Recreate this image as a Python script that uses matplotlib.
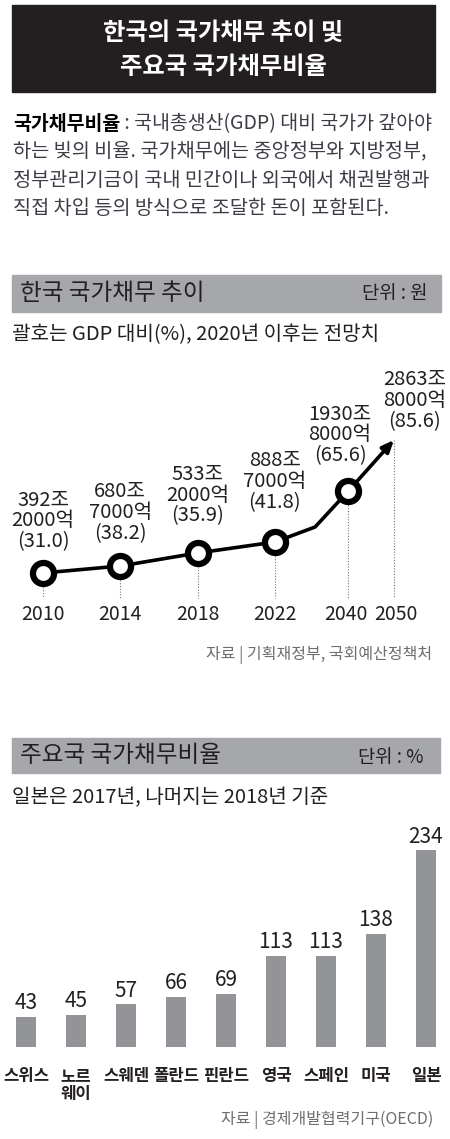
import matplotlib
matplotlib.use('Agg')
import matplotlib.pyplot as plt
from matplotlib.patches import Rectangle

# ---------- Data ----------

title_lines = ['한국의 국가채무 추이 및', '주요국 국가채무비율']
desc_bold = '국가채무비율'
desc_lines = [' : 국내총생산(GDP) 대비 국가가 갚아야',
              '하는 빚의 비율. 국가채무에는 중앙정부와 지방정부,',
              '정부관리기금이 국내 민간이나 외국에서 채권발행과',
              '직접 차입 등의 방식으로 조달한 돈이 포함된다.']

years = ['2010', '2014', '2018', '2022', '2040', '2050']
debt_labels = ['392조\n2000억\n(31.0)', '680조\n7000억\n(38.2)', '533조\n2000억\n(35.9)',
               '888조\n7000억\n(41.8)', '1930조\n8000억\n(65.6)', '2863조\n8000억\n(85.6)']
year_pos = [0, 1, 2, 3, 3.95, 4.54]       # category positions on the time axis
line_x = [0, 1, 2, 3, 3.52, 3.95, 4.54]     # path incl. the kink before 2040
line_level = [0, 7, 20, 31, 46, 82, 133]    # schematic heights

countries = ['스위스', '노르\n웨이', '스웨덴', '폴란드', '핀란드', '영국', '스페인', '미국', '일본']
ratios = [43, 45, 57, 66, 69, 113, 113, 138, 234]

# ---------- Setup ----------

W, H = 450, 1139
plt.rcParams['font.family'] = ['Noto Sans CJK KR', 'DejaVu Sans']
fig = plt.figure(figsize=(W/100, H/100), dpi=100)
fig.patch.set_facecolor('white')

DARK = '#231f20'
DESC = '#3c3c46'
GRAY_BOX = '#a6a7aa'
BAR = '#939497'
SRC = '#6d6e71'

def fx(x): return x/W
def fy(y): return 1 - y/H

def box(x0, y0, x1, y1, color):
    fig.patches.append(Rectangle((fx(x0), fy(y1)), fx(x1-x0), (y1-y0)/H,
                                 transform=fig.transFigure, color=color, zorder=0))

def ptext(x, y, s, **kw):
    return fig.text(fx(x), fy(y), s, **kw)

# ---------- Title ----------

box(12, 5, 435, 92, DARK)
ptext(223, 33, title_lines[0], color='white', fontsize=17.5, fontweight='bold', ha='center', va='center')
ptext(223, 67, title_lines[1], color='white', fontsize=17.5, fontweight='bold', ha='center', va='center')

# ---------- Description ----------

renderer = fig.canvas.get_renderer()
t = ptext(13, 124, desc_bold, color='black', fontsize=14, fontweight='bold', va='center')
bb = t.get_window_extent(renderer)
fig.text(bb.x1/fig.dpi/fig.get_figwidth(), fy(124), desc_lines[0], color=DESC, fontsize=14, va='center')
for i, line in enumerate(desc_lines[1:]):
    ptext(13, 152 + 28*i, line, color=DESC, fontsize=14.2, va='center')

# ---------- Section 1: line chart ----------

box(12, 275, 441, 312, GRAY_BOX)
ptext(20, 293, '한국 국가채무 추이', color=DARK, fontsize=17, va='center')
ptext(428, 294, '단위 : 원', color=DARK, fontsize=13.5, ha='right', va='center')
ptext(12, 335, '괄호는 GDP 대비(%), 2020년 이후는 전망치', color=DARK, fontsize=14.5, va='center')

top, bot = 360, 630
ax1 = fig.add_axes([0, fy(bot), 1, (bot-top)/H])
ax1.set_xlim(-43/77.3, (W-43)/77.3)
ax1.set_ylim(-(bot-573), 573-top)
ax1.axis('off')

# dotted guides
for xp in year_pos:
    lvl = line_level[line_x.index(xp)]
    ax1.plot([xp, xp], [lvl, -25], color='#777777', lw=0.8, ls=(0, (1, 1.5)), zorder=1)

ax1.plot(line_x[:-1], line_level[:-1], color='black', lw=2.6, zorder=2, solid_capstyle='round')
ax1.annotate('', xy=(line_x[-1], line_level[-1]), xytext=(line_x[-2], line_level[-2]),
             arrowprops=dict(arrowstyle='-|>,head_length=0.7,head_width=0.3', color='black', lw=2.6,
                             shrinkA=0, shrinkB=0), zorder=2)
mk_x = year_pos[:-1]
mk_y = [line_level[line_x.index(x)] for x in mk_x]
ax1.scatter(mk_x, mk_y, s=230, facecolor='white', edgecolor='black', linewidths=4.5, zorder=3)

offsets = [(0, 15), (0, 16), (0, 19), (0, 21), (-6, 18), (15, 6)]
for xp, lab, off in zip(year_pos, debt_labels, offsets):
    lvl = line_level[line_x.index(xp)]
    ax1.annotate(lab, xy=(xp, lvl), xytext=off, textcoords='offset points',
                 ha='center', va='bottom', fontsize=14.5, color=DARK, linespacing=0.98)

year_shift = [0, 0, 0, 0, -0.03, 0.02]
for xp, yr, sh in zip(year_pos, years, year_shift):
    ax1.text(xp + sh, -42, yr, ha='center', va='center', fontsize=14, color=DARK)

ptext(432, 655, '자료 | 기획재정부, 국회예산정책처', color=SRC, fontsize=11.5, ha='right', va='center')

# ---------- Section 2: bar chart ----------

box(12, 738, 440, 773, GRAY_BOX)
ptext(20, 756, '주요국 국가채무비율', color=DARK, fontsize=17, va='center')
ptext(423, 757, '단위 : %', color=DARK, fontsize=13.5, ha='right', va='center')
ptext(12, 798, '일본은 2017년, 나머지는 2018년 기준', color=DARK, fontsize=14.5, va='center')

top2, bot2 = 820, 1047
ax2 = fig.add_axes([0, fy(bot2), 1, (bot2-top2)/H])
xs = list(range(len(countries)))
ax2.bar(xs, ratios, width=0.4, color=BAR, zorder=1)
ax2.set_xlim(-26/50, (W-26)/50)
ax2.set_ylim(8, 8 + (bot2-top2)/0.87)
ax2.axis('off')
for x, v in zip(xs, ratios):
    ax2.annotate(str(v), xy=(x, v), xytext=(0, 2), textcoords='offset points',
                 ha='center', va='bottom', fontsize=15, color=DARK)

for x, c in zip(xs, countries):
    ptext(26 + 50*x, 1067, c, color=DARK, fontsize=12, fontweight='bold',
          ha='center', va='top', linespacing=1.0)

ptext(433, 1120, '자료 | 경제개발협력기구(OECD)', color=SRC, fontsize=11.5, ha='right', va='center')

fig.savefig('out.png', dpi=100)
